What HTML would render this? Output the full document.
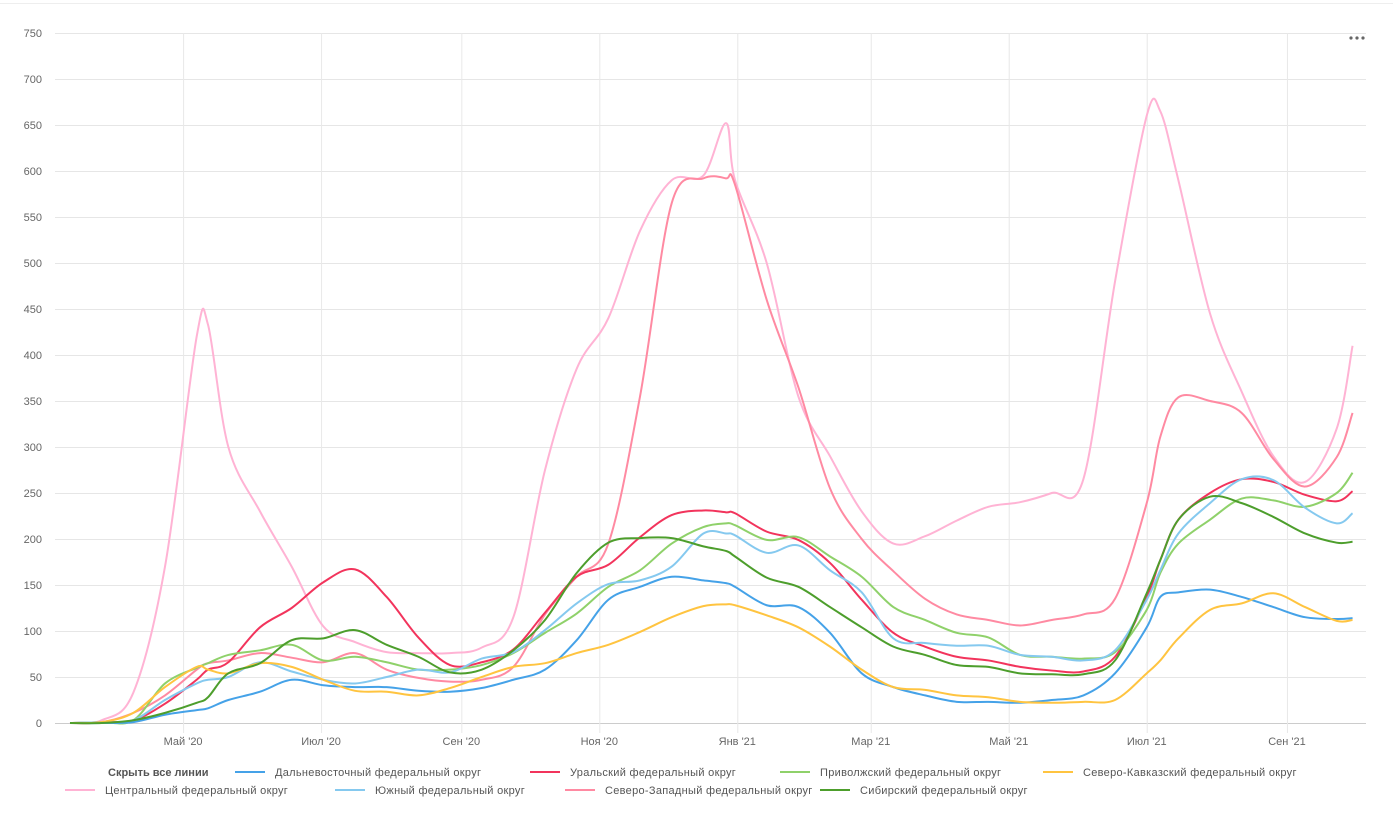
<!DOCTYPE html>
<html><head><meta charset="utf-8"><style>
body{margin:0;background:#fff;font-family:"Liberation Sans",sans-serif;}
svg text{font-family:"Liberation Sans",sans-serif;}
</style></head><body>
<svg id="chart" width="1393" height="813">
<line x1="0" y1="3.5" x2="1393" y2="3.5" stroke="#eee"/>
<g id="grid"></g><g id="series"></g><g id="axes"></g>
<g><circle cx="1351" cy="38" r="1.6" fill="#666"/><circle cx="1357" cy="38" r="1.6" fill="#666"/><circle cx="1363" cy="38" r="1.6" fill="#666"/></g>
<g id="legend" font-size="11" fill="#555"></g>
</svg>
<script>
const days=[0,14,28,42,56,61,70,84,98,112,126,140,154,168,182,196,210,224,238,252,266,280,290,294,308,322,336,350,364,378,392,406,420,434,448,462,476,482,490,504,518,532,546,560,567];
const farEast=[0,0,1,9,14,16,25,34,47,41,39,39,35,34,38,47,58,90,134,148,159,155,152,148,128,126,98,54,39,30,23,23,22,25,30,54,104,137,142,145,137,126,115,113,114];
const ural=[0,1,3,21,47,58,66,104,125,153,167,137,93,63,66,80,120,159,172,202,226,231,229,228,208,199,174,134,98,83,72,68,61,57,56,72,137,177,221,250,265,262,248,241,252];
const volga=[0,1,3,43,60,65,74,79,85,68,72,66,58,58,63,76,98,119,148,166,195,213,217,215,199,202,181,159,126,112,98,93,74,72,70,77,123,163,195,221,244,242,235,250,272];
const caucasus=[0,1,11,39,61,58,54,65,61,47,35,34,30,38,50,61,65,76,85,99,115,127,129,128,117,104,83,58,39,36,30,28,23,22,23,25,54,68,92,123,130,141,126,111,112];
const central=[0,3,33,170,420,433,300,230,170,105,88,77,76,76,82,115,275,385,440,535,590,595,652,590,500,355,290,230,195,203,220,235,240,250,265,480,660,665,590,445,360,290,262,320,410];
const south=[0,1,3,25,43,47,50,66,56,47,43,50,58,55,70,77,101,130,151,155,170,206,206,204,185,193,166,142,92,87,84,84,74,72,68,79,134,166,206,239,265,264,234,217,228];
const northwest=[0,1,11,30,58,65,68,76,71,66,76,58,49,45,47,61,118,159,195,355,565,592,592,585,460,365,255,200,165,135,118,112,106,112,118,135,239,311,354,350,337,287,257,289,337];
const siberia=[0,0,3,11,22,28,54,65,90,92,101,85,72,55,58,79,112,163,196,201,201,192,187,181,158,148,126,104,83,74,63,61,54,53,53,68,141,177,221,246,239,224,206,196,197];
const yTicks=[0,50,100,150,200,250,300,350,400,450,500,550,600,650,700,750];
const xTickDays=[50,111,173,234,295,354,415,476,538];
const xTickLabels=["Май '20","Июл '20","Сен '20","Ноя '20","Янв '21","Мар '21","Май '21","Июл '21","Сен '21"];
const seriesNames=["Дальневосточный федеральный округ","Уральский федеральный округ","Приволжский федеральный округ","Северо-Кавказский федеральный округ","Центральный федеральный округ","Южный федеральный округ","Северо-Западный федеральный округ","Сибирский федеральный округ"];
const seriesData=[farEast,ural,volga,caucasus,central,south,northwest,siberia];
const colors=["#45a2e8","#f2345c","#8fd16a","#ffc440","#ffb3d4","#85c9ef","#ff8aa2","#4d9e2c"];
const keys=["far-east","ural","volga","north-caucasus","central","south","north-west","siberia"];
const X=d=>70+d*2.262, Y=v=>723-v*0.92;
const NS="http://www.w3.org/2000/svg";
function mk(t,a,p){const e=document.createElementNS(NS,t);for(const k in a)e.setAttribute(k,a[k]);p.appendChild(e);return e;}
const grid=document.getElementById('grid'),axes=document.getElementById('axes');
yTicks.forEach(v=>{
 const l=mk('line',{x1:55,x2:1366,y1:Y(v)+.5,y2:Y(v)+.5,stroke:v===0?'#ccc':'#e6e6e6'},grid);
 
 
 const t=mk('text',{x:42,y:Y(v)+4,'text-anchor':'end','font-size':11,fill:'#666'},axes);t.textContent=v;
 
 
});
xTickDays.forEach((d,i)=>{
 const l=mk('line',{x1:X(d)+.5,x2:X(d)+.5,y1:33,y2:733,stroke:'#e8e8e8'},grid);
 
 
 const t=mk('text',{x:X(d),y:745,'text-anchor':'middle','font-size':11,fill:'#666'},axes);t.textContent=xTickLabels[i];
 
 
});
function pathFor(vals){
 const p=days.map((d,i)=>[X(d),Y(vals[i])]);let s=`M${p[0][0]},${p[0][1]}`;
 for(let i=0;i<p.length-1;i++){const p0=p[i-1]||p[i],p1=p[i],p2=p[i+1],p3=p[i+2]||p2;
  const c1=[p1[0]+(p2[0]-p0[0])/6,p1[1]+(p2[1]-p0[1])/6],c2=[p2[0]-(p3[0]-p1[0])/6,p2[1]-(p3[1]-p1[1])/6];
  s+=`C${c1[0]},${c1[1]} ${c2[0]},${c2[1]} ${p2[0]},${p2[1]}`;}
 return s;}
const sg=document.getElementById('series');
[4,6,1,2,5,0,3,7].forEach(i=>{
 const e=mk('path',{d:pathFor(seriesData[i]),fill:'none',stroke:colors[i],'stroke-width':2,'stroke-linejoin':'round'},sg);
 
 
});
const lg=document.getElementById('legend');
const hide=mk('text',{x:108,y:776,'font-weight':'bold',fill:'#555'},lg);hide.textContent='Скрыть все линии';


const pos=[[235,772],[530,772],[780,772],[1043,772],[65,790],[335,790],[565,790],[820,790]];
pos.forEach((p,i)=>{
 const g=mk('g',{},lg);
 
 
 mk('line',{x1:p[0],x2:p[0]+30,y1:p[1],y2:p[1],stroke:colors[i],'stroke-width':2},g);
 const t=mk('text',{x:p[0]+40,y:p[1]+4,fill:'#555','letter-spacing':'0.3'},g);t.textContent=seriesNames[i];
});
</script>
</body></html>
